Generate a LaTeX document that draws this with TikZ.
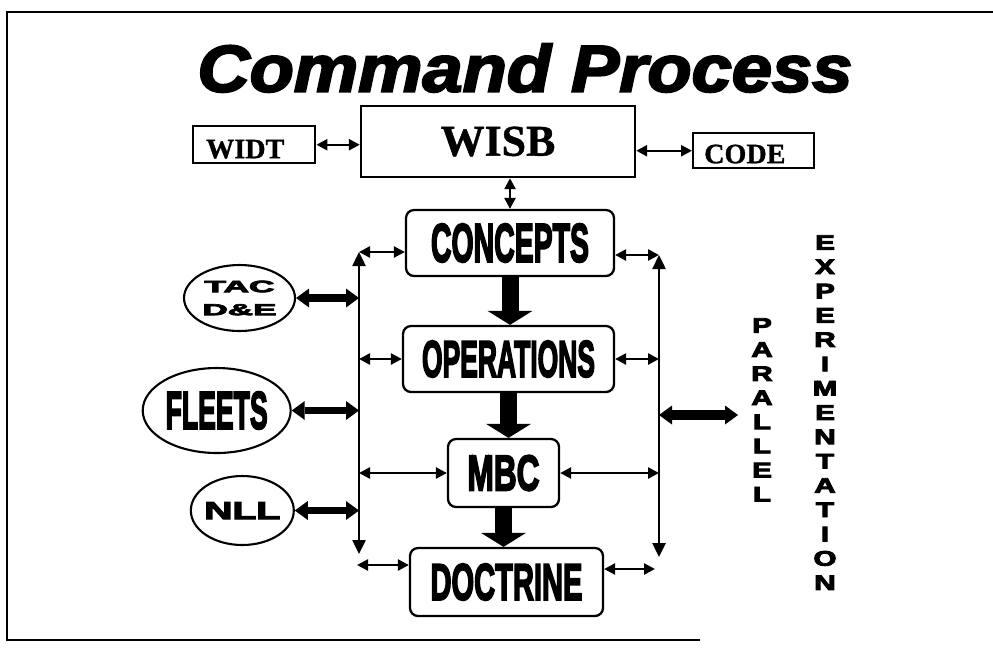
\documentclass[tikz,border=0pt]{standalone}
\usepackage{fontspec}
\usepackage{graphicx}
\usetikzlibrary{arrows.meta,shapes.geometric}
\newfontfamily\titlefont[FakeBold=3]{Liberation Sans Bold Italic}
\newfontfamily\heavyfont[FakeBold=4]{Liberation Sans Bold}
\newfontfamily\serifbold[FakeBold=1]{Liberation Serif Bold}
\newcommand{\fitword}[3]{\resizebox{#1}{#2}{\heavyfont #3}}
\newcommand{\wideletter}[1]{\scalebox{1.4}[1]{\heavyfont\fontsize{12}{12}\selectfont #1}}

\tikzset{
  phase/.style={draw, rounded corners=0.16cm, line width=1.3pt, inner sep=0pt},
  source/.style={draw, ellipse, line width=1.2pt, inner sep=0pt},
  plain/.style={draw, line width=1.4pt, inner sep=0pt},
  link/.style={line width=1.4pt, {Triangle[length=0.22cm,width=0.22cm]}-{Triangle[length=0.22cm,width=0.22cm]}},
  bus/.style={line width=1.4pt, {Triangle[length=0.28cm,width=0.26cm]}-{Triangle[length=0.28cm,width=0.26cm]}},
  feed/.style={line width=0.15cm, {Triangle[length=0.26cm,width=0.38cm,line width=0pt]}-{Triangle[length=0.26cm,width=0.38cm,line width=0pt]}},
  flow/.style={line width=0.34cm, -{Triangle[length=0.28cm,width=0.9cm,line width=0pt]}},
  letter/.style={inner sep=0pt}
}

\begin{document}
\begin{tikzpicture}[x=0.02cm, y=-0.02cm]
\useasboundingbox (0,0) rectangle (993,647);
\draw[line width=1.6pt] (993,12) -- (7,12) -- (7,640) -- (700,640);

\node (title) at (525,68) {\resizebox{13.1cm}{0.96cm}{\titlefont Command Process}};

\node[plain, minimum width=5.48cm, minimum height=1.42cm, font=\serifbold\fontsize{25}{25}\selectfont] (wisb) at (498,141.5) {WISB};
\node[plain, anchor=north west, text width=1.92cm, inner xsep=0.26cm, text height=0.64cm, text depth=0.1cm, align=left, font=\serifbold\fontsize{16}{16}\selectfont] (widt) at (192,125) {WIDT};
\node[plain, anchor=north west, text width=1.98cm, inner xsep=0.22cm, text height=0.6cm, text depth=0.1cm, align=left, font=\serifbold\fontsize{16}{16}\selectfont] (code) at (692,132) {CODE};

\node[phase, minimum width=4.16cm, minimum height=1.32cm] (concepts) at (510,243) {\fitword{3.16cm}{0.76cm}{CONCEPTS}};
\node[phase, minimum width=4.22cm, minimum height=1.32cm] (operations) at (508.5,359) {\fitword{3.46cm}{0.72cm}{OPERATIONS}};
\node[phase, minimum width=2.22cm, minimum height=1.36cm] (mbc) at (503.5,473) {\fitword{1.44cm}{0.70cm}{MBC}};
\node[phase, minimum width=3.86cm, minimum height=1.36cm] (doctrine) at (506.5,582) {\fitword{3.04cm}{0.72cm}{DOCTRINE}};

\node[source, minimum width=2.22cm, minimum height=1.32cm, align=center, font=\fontsize{10}{13.1}\selectfont] (tac) at (239.5,298) {\fitword{1.4cm}{0.23cm}{TAC}\\\fitword{1.48cm}{0.22cm}{D\&E}};
\node[source, minimum width=2.96cm, minimum height=1.7cm] (fleets) at (216.7,410.5) {\fitword{2.04cm}{0.74cm}{FLEETS}};
\node[source, minimum width=2.06cm, minimum height=1.38cm, inner xsep=-0.1cm] (nll) at (242.3,510.5) {\fitword{1.52cm}{0.34cm}{NLL}};

\foreach \ch [count=\i] in {P,A,R,A,L,L,E,L}
  \node[letter] (par\i) at (762, 301.4+24.1*\i) {\wideletter{\ch}};
\foreach \ch [count=\i] in {E,X,P,E,R,I,M,E,N,T,A,T,I,O,N}
  \node[letter] (exp\i) at (825, 218.2+24.3*\i) {\wideletter{\ch}};

\coordinate (ltop) at (359,252);
\coordinate (lbot) at (359,554);
\coordinate (rtop) at (659,255);
\coordinate (rbot) at (659,557);
\coordinate (pexp) at (738,415);
\coordinate (dleft) at ([yshift=0.34cm]doctrine.west);
\coordinate (dright) at ([yshift=0.26cm]doctrine.east);

\draw[bus] (ltop) -- (lbot);
\draw[bus] (rtop) -- (rbot);

\draw[link] (widt.east) -- (widt.east -| wisb.west);
\draw[link] (wisb.east |- code.west) -- (code.west);
\draw[link] (concepts.north) -- (concepts.north |- wisb.south);

\draw[link] (ltop) -- (ltop -| concepts.west);
\draw[link] (operations.west -| ltop) -- (operations.west);
\draw[link] (mbc.west -| ltop) -- (mbc.west);
\draw[link] ([xshift=-0.04cm]dleft -| lbot) -- (dleft);
\draw[link] (concepts.east |- rtop) -- (rtop);
\draw[link] (operations.east) -- (operations.east -| rtop);
\draw[link] (mbc.east) -- (mbc.east -| rtop);
\draw[link] (dright) -- ([xshift=-0.08cm]dright -| rbot);

\draw[feed] (tac.east) -- (tac.east -| ltop);
\draw[feed] (fleets.east) -- (fleets.east -| ltop);
\draw[feed] (nll.east) -- (nll.east -| ltop);
\draw[feed, line width=0.19cm] (rtop |- pexp) -- (pexp);

\draw[flow] (concepts.south) -- (concepts.south |- operations.north);
\draw[flow] (operations.south) -- (operations.south |- mbc.north);
\draw[flow] (mbc.south) -- (mbc.south |- doctrine.north);
\end{tikzpicture}
\end{document}
